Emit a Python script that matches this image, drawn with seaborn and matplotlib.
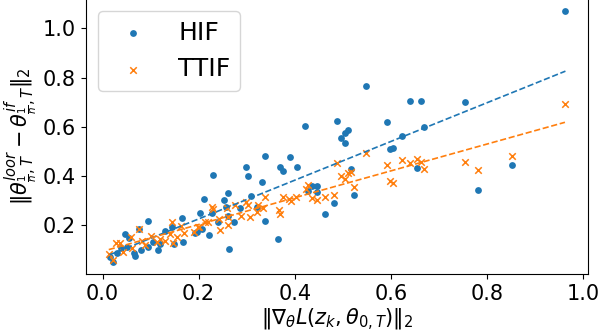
import numpy as np
import pandas as pd
import matplotlib
matplotlib.use("Agg")
import matplotlib.pyplot as plt
import seaborn as sns

hif_x = [0.963, 0.548, 0.640, 0.662, 0.754, 0.488, 0.592, 0.421, 0.669, 0.511,
         0.505, 0.496, 0.505, 0.623, 0.598, 0.605, 0.338, 0.390, 0.298, 0.369,
         0.376, 0.404, 0.655, 0.517, 0.852, 0.230, 0.303, 0.332, 0.436, 0.446,
         0.428, 0.446, 0.781, 0.261, 0.523, 0.309, 0.211, 0.253, 0.482, 0.257,
         0.286, 0.322, 0.203, 0.228, 0.463, 0.261, 0.240, 0.274, 0.338, 0.094,
         0.165, 0.144, 0.207, 0.076, 0.196, 0.193, 0.130, 0.046, 0.222, 0.055,
         0.365, 0.167, 0.149, 0.105, 0.119, 0.115, 0.094, 0.080, 0.050, 0.038,
         0.065, 0.067, 0.030, 0.015, 0.021, 0.263]
hif_y = [1.070, 0.765, 0.705, 0.705, 0.700, 0.624, 0.620, 0.603, 0.598, 0.588,
         0.575, 0.553, 0.535, 0.562, 0.510, 0.514, 0.482, 0.478, 0.437, 0.437,
         0.421, 0.436, 0.432, 0.429, 0.445, 0.404, 0.400, 0.376, 0.359, 0.359,
         0.340, 0.336, 0.344, 0.331, 0.323, 0.319, 0.307, 0.303, 0.289, 0.275,
         0.271, 0.275, 0.250, 0.250, 0.245, 0.238, 0.214, 0.214, 0.218, 0.218,
         0.229, 0.193, 0.186, 0.185, 0.174, 0.169, 0.177, 0.165, 0.161, 0.148,
         0.145, 0.133, 0.125, 0.133, 0.125, 0.101, 0.113, 0.101, 0.113, 0.109,
         0.089, 0.076, 0.089, 0.072, 0.052, 0.104]

ttif_x = [0.962, 0.852, 0.754, 0.781, 0.548, 0.488, 0.592, 0.623, 0.640, 0.655,
          0.662, 0.669, 0.496, 0.505, 0.511, 0.517, 0.598, 0.605, 0.523, 0.481,
          0.424, 0.428, 0.403, 0.436, 0.446, 0.463, 0.392, 0.387, 0.376, 0.338,
          0.324, 0.334, 0.298, 0.303, 0.276, 0.259, 0.321, 0.367, 0.369, 0.288,
          0.307, 0.261, 0.242, 0.228, 0.220, 0.213, 0.261, 0.245, 0.198, 0.144,
          0.163, 0.076, 0.101, 0.059, 0.028, 0.036, 0.082, 0.113, 0.119, 0.130,
          0.140, 0.155, 0.169, 0.190, 0.200, 0.147, 0.013, 0.022, 0.042, 0.061,
          0.088, 0.230]
ttif_y = [0.692, 0.482, 0.457, 0.424, 0.494, 0.453, 0.445, 0.465, 0.453, 0.469,
          0.457, 0.429, 0.400, 0.388, 0.412, 0.416, 0.380, 0.371, 0.355, 0.323,
          0.347, 0.363, 0.315, 0.311, 0.303, 0.315, 0.299, 0.307, 0.315, 0.315,
          0.283, 0.271, 0.295, 0.283, 0.283, 0.271, 0.255, 0.263, 0.247, 0.238,
          0.234, 0.234, 0.226, 0.275, 0.214, 0.214, 0.202, 0.182, 0.193, 0.214,
          0.197, 0.185, 0.157, 0.153, 0.129, 0.129, 0.137, 0.133, 0.145, 0.137,
          0.165, 0.153, 0.169, 0.173, 0.193, 0.129, 0.084, 0.060, 0.092, 0.109,
          0.121, 0.267]

blue = "#1f77b4"
orange = "#ff7f0e"

fig = plt.figure(figsize=(5.98, 3.34), dpi=100)
ax = fig.add_axes([0.1433, 0.1796, 0.840, 0.825])

sns.scatterplot(x=hif_x, y=hif_y, ax=ax, color=blue, marker="o", s=24,
                linewidth=0, label="HIF")
sns.scatterplot(x=ttif_x, y=ttif_y, ax=ax, color=orange, marker="x", s=22,
                linewidth=1.1, label="TTIF")
sns.regplot(x=np.array(hif_x), y=np.array(hif_y), ax=ax, scatter=False, ci=None,
            color=blue, line_kws=dict(ls="--", lw=1.2))
sns.regplot(x=np.array(ttif_x), y=np.array(ttif_y), ax=ax, scatter=False, ci=None,
            color=orange, line_kws=dict(ls="--", lw=1.2))

ax.set_xlim(-0.035, 1.010)
ax.set_ylim(0.002, 1.121)
ax.set_xticks([0.0, 0.2, 0.4, 0.6, 0.8, 1.0])
ax.set_yticks([0.2, 0.4, 0.6, 0.8, 1.0])
ax.tick_params(labelsize=15)
ax.set_xlabel(r"$\|\nabla_\theta L(z_k, \theta_{0,T})\|_2$", fontsize=15, labelpad=2)
ax.set_ylabel(r"$\|\theta^{loor}_{\frac{1}{n},T} - \theta^{if}_{\frac{1}{n},T}\|_2$",
              fontsize=15, labelpad=2)
ax.legend(loc="upper left", fontsize=18)

fig.savefig("out.png", dpi=100)
